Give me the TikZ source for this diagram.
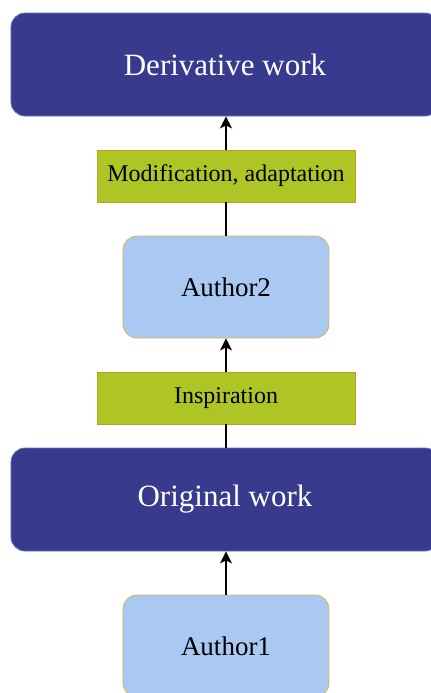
\documentclass[tikz,border=0pt]{standalone}
\usepackage{fontspec}
\setmainfont{Liberation Serif}
\usepackage{xcolor}
\usepackage{tikz}
\usetikzlibrary{arrows.meta}
\definecolor{workblue}{RGB}{56, 58, 141}
\definecolor{workedge}{RGB}{92, 120, 190}
\definecolor{authorblue}{RGB}{169, 200, 242}
\definecolor{authoredge}{RGB}{214, 182, 86}
\definecolor{actiongreen}{RGB}{175, 197, 38}
\definecolor{actionedge}{RGB}{190, 160, 20}

\begin{document}
\begin{tikzpicture}[x=0.5pt, y=-0.5pt, >={Stealth[length=6pt, width=6pt, inset=1.5pt]}]
\useasboundingbox (0,0) rectangle (430,693);
\tikzset{
  work/.style={rectangle, rounded corners=7pt, draw=workedge, fill=workblue, text=white,
    minimum width=214pt, minimum height=51.5pt, font=\fontsize{15.5}{18}\selectfont},
  author/.style={rectangle, rounded corners=7pt, draw=authoredge, fill=authorblue,
    minimum width=103pt, minimum height=51pt, font=\fontsize{13.5}{16}\selectfont},
  action/.style={rectangle, draw=actionedge, fill=actiongreen,
    minimum width=129pt, minimum height=26pt, font=\fontsize{12}{14}\selectfont},
}
% Nodes
\node[work] (deriv) at (225,64.5) {Derivative work};
\node[action] (modif) at (226,176) {Modification, adaptation};
\node[author] (author2) at (226,287) {Author2};
\node[action] (inspir) at (226,398) {Inspiration};
\node[work] (orig) at (225,499.5) {Original work};
\node[author] (author1) at (226,646) {Author1};

% Edges
\draw[->, thick] (author1) -- (author1 |- orig.south);
\draw[thick] (orig.north -| inspir) -- (inspir);
\draw[->, thick] (inspir) -- (author2);
\draw[thick] (author2) -- (modif);
\draw[->, thick] (modif) -- (modif |- deriv.south);

\end{tikzpicture}
\end{document}
